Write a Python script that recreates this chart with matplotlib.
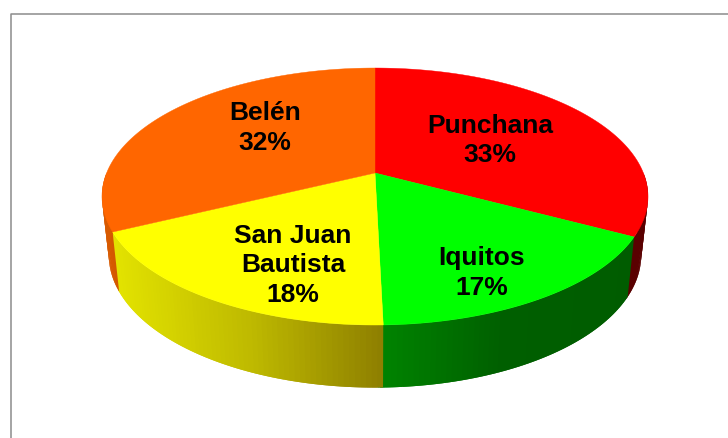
#!/usr/bin/env python3
"""Perspective 3D pie of share per district."""

import numpy as np
import matplotlib
matplotlib.use('Agg')
import matplotlib.pyplot as plt

districts = ['Punchana', 'Iquitos', 'San Juan\nBautista', 'Belén']
shares = [32.8, 16.8, 18.2, 32.2]
percent_labels = ['33%', '17%', '18%', '32%']
top_colors = ['#FF0000', '#00FF00', '#FFFF00', '#FF6600']
label_xy = [(490, 140.5), (482, 273), (293, 265.5), (265, 128)]

# wall shading by pixel column: (x, rgb) stops
wall_stops = [
    [(600, (90, 0, 0)), (650, (90, 0, 0))],
    [(384, (0, 130, 0)), (500, (0, 95, 0)), (640, (0, 92, 0))],
    [(112, (228, 228, 0)), (250, (190, 185, 0)), (384, (140, 125, 0))],
    [(100, (220, 92, 0)), (125, (205, 85, 0))],
]

# projection of the pie disc on the picture
CX, CY = 375, 173
A, B, K = 268.4, 124.2, 0.183
SX, SY, CY_LOW = 0.975, 1.03, 231


def top_rim(theta):
    # theta in radians, clockwise from 12 o'clock
    u, v = np.sin(theta), np.cos(theta)
    w = 1 + K * v
    return CX + A * u / w, CY - B * v / w


def low_rim(theta):
    x, y = top_rim(theta)
    return CX + SX * (x - CX), CY_LOW + SY * (y - CY)


def wall_color(stops, x):
    xs = [s[0] for s in stops]
    rgb = [np.interp(x, xs, [s[1][i] for s in stops]) / 255 for i in range(3)]
    return tuple(rgb)


fig = plt.figure(figsize=(7.28, 4.38), dpi=100)
ax = fig.add_axes([0, 0, 1, 1])
ax.set_xlim(0, 728)
ax.set_ylim(438, 0)
ax.axis('off')

# chart area border, runs off the right and bottom edge
ax.plot([10.5, 10.5, 728], [438, 13.5, 13.5], color='#8c8c8c', linewidth=1.1)

edges = np.radians(np.concatenate([[0], np.cumsum(shares)]) * 3.6)
step = np.radians(1.0)

# side wall first, the top covers whatever sits behind it
# each quad runs on under the next one so no seams show
for i in range(len(shares)):
    lo = max(edges[i], np.radians(90))
    hi = min(edges[i + 1], np.radians(270))
    if hi <= lo:
        continue
    t0 = lo
    while t0 < hi:
        t1 = min(t0 + 2 * step, min(hi + step, np.radians(270)))
        t = np.linspace(t0, t1, 5)
        xt, yt = top_rim(t)
        xl, yl = low_rim(t)
        mid = (xt.mean() + xl.mean()) / 2
        ax.fill(np.r_[xt, xl[::-1]], np.r_[yt, yl[::-1]],
                facecolor=wall_color(wall_stops[i], mid), edgecolor='none')
        t0 += step

# top face
for i in range(len(shares)):
    t = np.linspace(edges[i], edges[i + 1], 200)
    x, y = top_rim(t)
    ax.fill(np.r_[CX, x], np.r_[CY, y], color=top_colors[i], linewidth=0.3)

for name, pct, (lx, ly) in zip(districts, percent_labels, label_xy):
    ax.text(lx, ly, name + '\n' + pct, ha='center', va='center', multialignment='center',
            family='Liberation Sans', fontweight='bold', fontsize=19, color='black',
            linespacing=1.3)

plt.savefig('out.png', dpi=100)
